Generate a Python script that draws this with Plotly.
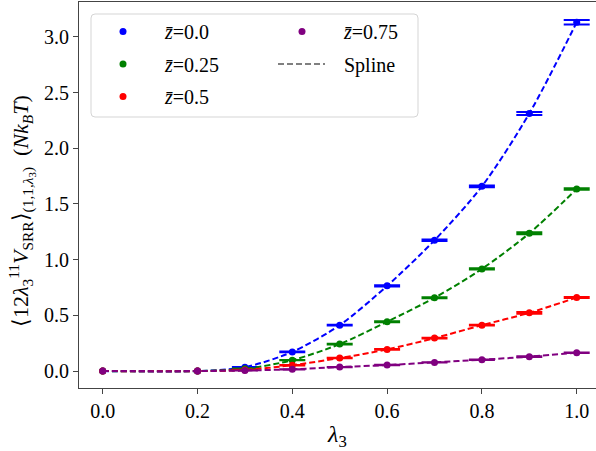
import plotly.graph_objects as go

W, H = 596, 451

lam = [0.0, 0.2, 0.3, 0.4, 0.5, 0.6, 0.7, 0.8, 0.9, 1.0]
v_z000 = [0.0, 0.0, 0.035, 0.172, 0.412, 0.765, 1.174, 1.658, 2.312, 3.131]
v_z025 = [0.0, 0.0, 0.020, 0.098, 0.242, 0.443, 0.658, 0.917, 1.237, 1.634]
v_z050 = [0.0, 0.0, 0.010, 0.053, 0.117, 0.194, 0.296, 0.412, 0.523, 0.660]
v_z075 = [0.0, 0.0, 0.005, 0.016, 0.036, 0.054, 0.078, 0.102, 0.129, 0.165]
e_z000 = [None, None, 0.002, 0.003, 0.004, 0.005, 0.006, 0.008, 0.014, 0.02]
e_z025 = [None, None, 0.002, 0.002, 0.003, 0.004, 0.004, 0.005, 0.008, 0.006]
e_z050 = [None, None, 0.001, 0.002, 0.002, 0.003, 0.003, 0.003, 0.008, 0.004]
e_z075 = [None, None, 0.001, 0.001, 0.001, 0.002, 0.002, 0.002, 0.003, 0.002]
labels = ["<i>z̄</i>=0.0", "<i>z̄</i>=0.25", "<i>z̄</i>=0.5", "<i>z̄</i>=0.75"]
colors = ["#0000ff", "#008000", "#ff0000", "#800080"]
x_ticks = [0.0, 0.2, 0.4, 0.6, 0.8, 1.0]
y_ticks = [0.0, 0.5, 1.0, 1.5, 2.0, 2.5, 3.0]

FONT = "'Liberation Serif', 'Times New Roman', serif"
FS = 20
DASH = "6px,3px"

fig = go.Figure()
series = [(v_z000, e_z000), (v_z025, e_z025), (v_z050, e_z050), (v_z075, e_z075)]
legend_of = ["legend", "legend", "legend", "legend2"]
for i, ((vals, errs), lab, col) in enumerate(zip(series, labels, colors)):
    fig.add_trace(go.Scatter(x=lam, y=vals, mode="lines", showlegend=False,
                             line=dict(color=col, width=2, dash=DASH, shape="spline", smoothing=0.8),
                             hoverinfo="skip"))
    xi = [x for x, e in zip(lam, errs) if e is not None]
    yi = [y for y, e in zip(vals, errs) if e is not None]
    ei = [e for e in errs if e is not None]
    x0 = [x for x, e in zip(lam, errs) if e is None]
    y0 = [y for y, e in zip(vals, errs) if e is None]
    fig.add_trace(go.Scatter(x=xi, y=yi, mode="markers", showlegend=False,
                             marker=dict(color=col, size=7),
                             error_y=dict(type="data", array=ei, visible=True, color=col,
                                          thickness=2, width=13)))
    fig.add_trace(go.Scatter(x=x0, y=y0, mode="markers", name=lab, legend=legend_of[i],
                             legendgroup=lab, marker=dict(color=col, size=7)))

fig.add_trace(go.Scatter(x=[None], y=[None], mode="lines", name="Spline", legend="legend2",
                         legendgroup="spline",
                         line=dict(color="rgba(0,0,0,0)", width=2, dash=DASH)))

L, T, B = 79, 2, 388
PW, PH = W - L, B - T
def px(x): return (x - L) / PW
def py(y): return (B - y) / PH

# legend frame (rounded)
x0f, x1f, y0f, y1f, r = 91, 418, 14, 117, 4
path = (f"M{px(x0f + r)},{py(y0f)} L{px(x1f - r)},{py(y0f)} Q{px(x1f)},{py(y0f)} {px(x1f)},{py(y0f + r)} "
        f"L{px(x1f)},{py(y1f - r)} Q{px(x1f)},{py(y1f)} {px(x1f - r)},{py(y1f)} "
        f"L{px(x0f + r)},{py(y1f)} Q{px(x0f)},{py(y1f)} {px(x0f)},{py(y1f - r)} "
        f"L{px(x0f)},{py(y0f + r)} Q{px(x0f)},{py(y0f)} {px(x0f + r)},{py(y0f)} Z")
fig.add_shape(type="path", xref="paper", yref="paper", path=path,
              line=dict(color="#d5d5d5", width=1), fillcolor="rgba(255,255,255,0.8)", layer="below")
# sample line for the "Spline" legend entry
fig.add_shape(type="line", xref="paper", yref="paper", x0=px(278), x1=px(325), y0=py(64), y1=py(64),
              line=dict(color="#808080", width=2, dash=DASH), layer="above")

legend_common = dict(xref="container", yref="container", xanchor="left", yanchor="top",
                     bgcolor="rgba(0,0,0,0)", borderwidth=0, itemwidth=74,
                     tracegroupgap=3.5, font=dict(family=FONT, size=FS, color="black"))
fig.update_layout(
    width=W, height=H,
    margin=dict(l=L, r=0, t=T, b=H - B, autoexpand=False),
    paper_bgcolor="white", plot_bgcolor="white",
    font=dict(family=FONT, size=FS, color="black"),
    legend=dict(x=81 / W, y=1 - 12 / H, **legend_common),
    legend2=dict(x=260 / W, y=1 - 12 / H, **legend_common),
    xaxis=dict(range=[-0.05, 1.0407], tickvals=x_ticks, ticktext=[f"{t:.1f}" for t in x_ticks],
               showgrid=False, zeroline=False, showline=True, linecolor="#444", linewidth=1.2,
               mirror=True, ticks="outside", ticklen=5, tickcolor="#444",
               title=dict(text="<i>λ</i><sub>3</sub>", standoff=10)),
    yaxis=dict(range=[-0.152, 3.313], tickvals=y_ticks, ticktext=[f"{t:.1f}" for t in y_ticks],
               showgrid=False, zeroline=False, showline=True, linecolor="#444", linewidth=1.2,
               ticks="outside", ticklen=5, tickcolor="#444"),
    showlegend=True,
)
fig.add_annotation(xref="paper", yref="paper", x=px(22), y=py(211), textangle=-90,
                   showarrow=False, xanchor="center", yanchor="middle",
                   text="⟨12<i>λ</i><sub>3</sub><sup>11</sup><i>V</i><sub>SRR</sub>⟩<sub>(1,1,<i>λ</i><sub>3</sub>)</sub>  (<i>Nk</i><sub><i>B</i></sub><i>T</i>)",
                   font=dict(family=FONT, size=22, color="black"))

fig.write_html("out.html", config={"displayModeBar": False},
               post_script="document.body.style.margin='0px';")
